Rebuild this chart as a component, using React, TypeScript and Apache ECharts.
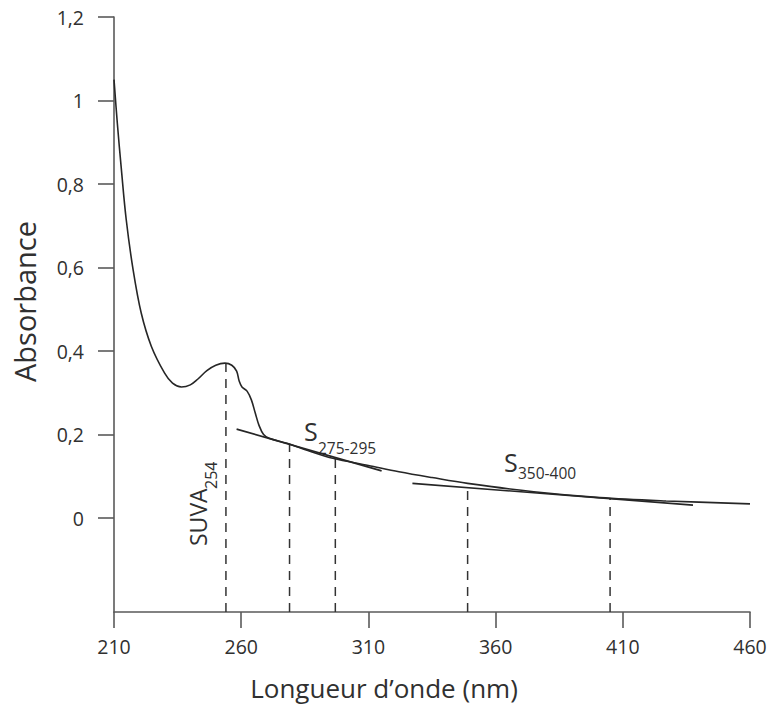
import React, { useEffect, useRef } from "react";
import * as echarts from "echarts";

// Absorption spectrum (wavelength nm, absorbance)
const spectrumNm = [
  210, 211.3, 212.9, 214.8, 217.5, 220.7, 224.7, 229.9, 233, 236.5, 240, 243,
  246.5, 250, 253.6, 256.3, 258.2, 259.2, 260.3, 262.3, 264, 265.5, 267, 268.8, 271,
  278, 287, 296, 310, 322, 335, 349, 375, 401, 427, 460,
];
const spectrumAbs = [
  1.05, 0.946, 0.835, 0.715, 0.595, 0.491, 0.411, 0.347, 0.323, 0.314, 0.319, 0.333,
  0.353, 0.366, 0.371, 0.366, 0.352, 0.328, 0.314, 0.304, 0.283, 0.252, 0.222, 0.2, 0.191,
  0.179, 0.16, 0.143, 0.126, 0.111, 0.097, 0.083, 0.063, 0.049, 0.041, 0.034,
];

// Tangent lines (slope regions)
const tangent275Nm = [258.2, 315.2];
const tangent275Abs = [0.213, 0.113];
const tangent350Nm = [327.3, 437.6];
const tangent350Abs = [0.083, 0.031];

// Dashed vertical markers
const markerNm = [254, 279, 297, 349, 405];
const markerTop = [0.371, 0.177, 0.142, 0.083, 0.048];

// Axes
const xMin = 210;
const xMax = 460;
const xTickValues = [210, 260, 310, 360, 410, 460];
const yMin = -0.225;
const yMax = 1.2;
const yTickValues = [0, 0.2, 0.4, 0.6, 0.8, 1, 1.2];
const yTickLabels = ["0", "0,2", "0,4", "0,6", "0,8", "1", "1,2"];

const FONT = "Open Sans";
const TEXT = "#303030";
const AXIS = "#5a5a5a";
const LINE = "#262626";

export default function App() {
  const ref = useRef<HTMLDivElement>(null);

  useEffect(() => {
    if (!ref.current) return;
    const chart = echarts.init(ref.current, undefined, { renderer: "svg" });

    const mainData = spectrumNm.map((x, i) => [x, spectrumAbs[i]]);
    const t275 = tangent275Nm.map((x, i) => [x, tangent275Abs[i]]);
    const t350 = tangent350Nm.map((x, i) => [x, tangent350Abs[i]]);

    const dashSeries = markerNm.map((x, i) => ({
      type: "line",
      data: [
        [x, yMin],
        [x, markerTop[i]],
      ],
      symbol: "none",
      silent: true,
      lineStyle: { color: "#333", width: 1.5, type: [9, 7] },
      z: 1,
    }));

    const option: any = {
      animation: false,
      backgroundColor: "#ffffff",
      grid: {
        left: 114,
        right: 20,
        top: 17,
        bottom: 97,
        containLabel: false,
        outerBoundsMode: "none",
      },
      xAxis: {
        type: "value",
        min: xMin,
        max: xMax,
        name: "Longueur d’onde (nm)",
        nameLocation: "middle",
        nameGap: 63,
        nameTextStyle: {
          fontFamily: FONT,
          fontSize: 26,
          color: TEXT,
          padding: [0, 96, 0, 0],
        },
        axisLine: { onZero: false, lineStyle: { color: AXIS, width: 1.6 } },
        axisTick: {
          show: true,
          length: 16,
          customValues: xTickValues,
          lineStyle: { color: AXIS, width: 1.6 },
        },
        axisLabel: {
          customValues: xTickValues,
          margin: 24,
          fontFamily: FONT,
          fontSize: 19.5,
          color: TEXT,
        },
        splitLine: { show: false },
      },
      yAxis: {
        type: "value",
        min: yMin,
        max: yMax,
        name: "Absorbance",
        nameLocation: "middle",
        nameGap: 75,
        nameTextStyle: {
          fontFamily: FONT,
          fontSize: 29,
          color: TEXT,
          padding: [0, 0, 0, 26],
        },
        axisLine: { onZero: false, lineStyle: { color: AXIS, width: 1.6 } },
        axisTick: {
          show: true,
          length: 16,
          customValues: yTickValues,
          lineStyle: { color: AXIS, width: 1.6 },
        },
        axisLabel: {
          customValues: yTickValues,
          margin: 30,
          fontFamily: FONT,
          fontSize: 19.5,
          color: TEXT,
          formatter: (v: number) => {
            let best = 0;
            yTickValues.forEach((t, i) => {
              if (Math.abs(t - v) < Math.abs(yTickValues[best] - v)) best = i;
            });
            return yTickLabels[best];
          },
        },
        splitLine: { show: false },
      },
      series: [
        {
          type: "line",
          data: mainData,
          smooth: 0.35,
          symbol: "none",
          lineStyle: { color: LINE, width: 1.6 },
          z: 3,
        },
        {
          type: "line",
          data: t275,
          symbol: "none",
          lineStyle: { color: LINE, width: 1.6 },
          z: 2,
        },
        {
          type: "line",
          data: t350,
          symbol: "none",
          lineStyle: { color: LINE, width: 1.6 },
          z: 2,
        },
        ...dashSeries,
      ],
      graphic: [
        {
          type: "group",
          x: 198,
          y: 546,
          rotation: Math.PI / 2,
          children: [
            {
              type: "text",
              x: 0,
              y: 0,
              style: {
                text: "SUVA",
                fontFamily: FONT,
                fontSize: 23,
                fill: TEXT,
                align: "left",
                verticalAlign: "middle",
              },
            },
            {
              type: "text",
              x: 57,
              y: 13,
              style: {
                text: "254",
                fontFamily: FONT,
                fontSize: 16,
                fill: TEXT,
                align: "left",
                verticalAlign: "middle",
              },
            },
          ],
        },
        {
          type: "text",
          x: 304,
          y: 431,
          style: {
            text: "S",
            fontFamily: FONT,
            fontSize: 25,
            fill: TEXT,
            align: "left",
            verticalAlign: "middle",
          },
        },
        {
          type: "text",
          x: 318,
          y: 448,
          style: {
            text: "275-295",
            fontFamily: FONT,
            fontSize: 15.5,
            fill: TEXT,
            align: "left",
            verticalAlign: "middle",
          },
        },
        {
          type: "text",
          x: 504,
          y: 462,
          style: {
            text: "S",
            fontFamily: FONT,
            fontSize: 25,
            fill: TEXT,
            align: "left",
            verticalAlign: "middle",
          },
        },
        {
          type: "text",
          x: 518,
          y: 473,
          style: {
            text: "350-400",
            fontFamily: FONT,
            fontSize: 15.5,
            fill: TEXT,
            align: "left",
            verticalAlign: "middle",
          },
        },
      ],
    };

    chart.setOption(option);
    return () => chart.dispose();
  }, []);

  return (
    <div
      ref={ref}
      style={{ position: "fixed", left: 0, top: 0, width: 770, height: 709 }}
    />
  );
}
